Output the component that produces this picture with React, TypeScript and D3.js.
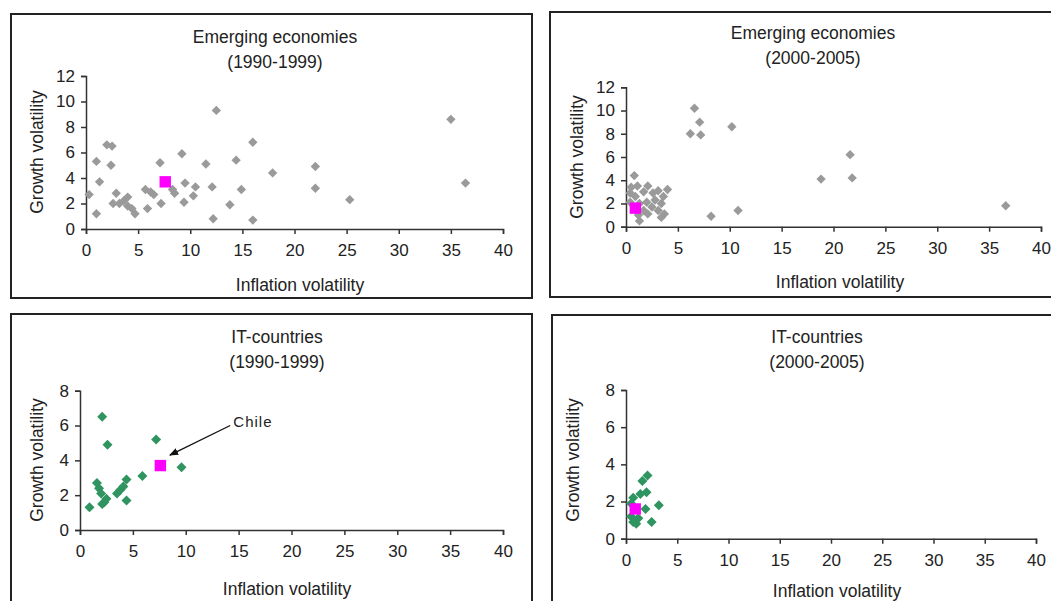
import React, { useEffect, useRef } from "react";
import * as d3 from "d3";

// emerging economies 1990-1999 [inflation volatility, growth volatility]
const emerging90 = [
  [0.3, 2.7], [1.0, 5.3], [1.0, 1.2], [1.3, 3.7], [2.0, 6.6], [2.5, 6.5], [2.4, 5.0],
  [2.6, 2.0], [2.9, 2.8], [3.2, 2.0], [3.6, 2.2], [4.0, 2.5], [4.0, 1.8], [4.4, 1.6],
  [4.7, 1.2], [5.7, 3.1], [6.2, 2.9], [6.5, 2.7], [5.9, 1.6], [7.1, 5.2], [7.2, 2.0],
  [8.3, 3.1], [8.5, 2.8], [9.2, 5.9], [9.5, 3.6], [9.4, 2.1], [10.5, 3.3], [10.3, 2.6],
  [11.5, 5.1], [12.1, 3.3], [12.2, 0.8], [12.5, 9.3], [13.8, 1.9], [14.4, 5.4], [14.9, 3.1],
  [16.0, 6.8], [16.0, 0.7], [17.9, 4.4], [22.0, 4.9], [22.0, 3.2], [25.3, 2.3], [35.0, 8.6],
  [36.4, 3.6],
];
const emerging00 = [
  [0.5, 3.4], [1.1, 3.5], [2.1, 3.5], [1.7, 3.0], [0.9, 2.6], [0.4, 2.9], [2.6, 2.9],
  [3.1, 3.1], [4.0, 3.2], [3.6, 2.6], [2.8, 2.3], [2.0, 2.1], [1.3, 2.0], [3.4, 2.0],
  [0.4, 2.1], [2.5, 1.7], [3.1, 1.4], [3.7, 1.1], [3.4, 0.8], [1.7, 1.4], [1.2, 1.0],
  [2.1, 1.1], [1.3, 0.5], [0.8, 4.4], [6.6, 10.2], [7.1, 9.0], [6.2, 8.0], [7.2, 7.9],
  [10.2, 8.6], [21.6, 6.2], [21.8, 4.2], [18.8, 4.1], [36.6, 1.8], [8.2, 0.9], [10.8, 1.4],
];
const it90 = [
  [2.1, 6.5], [2.6, 4.9], [7.2, 5.2], [9.6, 3.6], [5.9, 3.1], [4.4, 2.9], [4.4, 1.7],
  [3.5, 2.1], [3.8, 2.3], [4.1, 2.5], [1.6, 2.7], [1.8, 2.4], [2.0, 2.1], [2.5, 1.8],
  [2.1, 1.5], [2.3, 1.6], [0.9, 1.3],
];
const it00 = [
  [2.1, 3.4], [1.6, 3.1], [2.0, 2.5], [1.4, 2.4], [0.7, 2.2], [3.2, 1.8], [1.9, 1.6],
  [2.5, 0.9], [0.7, 0.9], [1.2, 1.1], [0.5, 1.2], [0.5, 1.9], [1.0, 0.8],
];
// Chile
const chile90 = [7.6, 3.7];
const chile00 = [0.9, 1.6];
const chileArrow = [[14.2, 6.0], [8.5, 4.3]];
const chileLabel = [14.5, 6.2];

const xTicks = [0, 5, 10, 15, 20, 25, 30, 35, 40];
const yTicksEmerging = [0, 2, 4, 6, 8, 10, 12];
const yTicksIT = [0, 2, 4, 6, 8];

const GRAY = "#9a9a9a";
const GREEN = "#2f9460";
const FONT = "'Liberation Sans', Arial, sans-serif";

const panels = [
  { title: "Emerging economies", period: "(1990-1999)", data: emerging90, chile: chile90, color: GRAY, yTicks: yTicksEmerging,
    frame: [11, 14, 532, 298], plot: [86, 503, 229, 76], tx: 275, ty: 43, xl: [300, 291], yl: [37, 152] },
  { title: "Emerging economies", period: "(2000-2005)", data: emerging00, chile: chile00, color: GRAY, yTicks: yTicksEmerging,
    frame: [550, 12, 1070, 297], plot: [626, 1041, 226.7, 87.3], tx: 813, ty: 39, xl: [840, 288], yl: [577, 157] },
  { title: "IT-countries", period: "(1990-1999)", data: it90, chile: chile90, color: GREEN, yTicks: yTicksIT,
    frame: [11, 314, 532, 640], plot: [80, 503, 530, 390.7], tx: 277, ty: 343, xl: [287, 595], yl: [37, 460], arrow: true },
  { title: "IT-countries", period: "(2000-2005)", data: it00, chile: chile00, color: GREEN, yTicks: yTicksIT,
    frame: [552, 315, 1070, 640], plot: [626, 1036, 538.7, 390], tx: 817, ty: 343, xl: [837, 597], yl: [573, 460] },
];

const App = () => {
  const ref = useRef(null);

  useEffect(() => {
    const svg = d3.select(ref.current);
    svg.selectAll("*").remove();

    svg.append("defs").append("marker")
      .attr("id", "arrowhead")
      .attr("viewBox", "0 0 10 10")
      .attr("refX", 9).attr("refY", 5)
      .attr("markerWidth", 7).attr("markerHeight", 7)
      .attr("orient", "auto")
      .append("path").attr("d", "M0,1 L10,5 L0,9 Z").attr("fill", "#111");

    panels.forEach((p) => {
      const g = svg.append("g");
      const [fx0, fy0, fx1, fy1] = p.frame;
      g.append("rect")
        .attr("x", fx0).attr("y", fy0)
        .attr("width", fx1 - fx0).attr("height", fy1 - fy0)
        .attr("fill", "white").attr("stroke", "#222").attr("stroke-width", 2);

      const [px0, px1, pyB, pyT] = p.plot;
      const x = d3.scaleLinear().domain([0, 40]).range([px0, px1]);
      const y = d3.scaleLinear().domain([0, p.yTicks[p.yTicks.length - 1]]).range([pyB, pyT]);

      const xAxis = g.append("g").attr("transform", `translate(0,${pyB})`)
        .call(d3.axisBottom(x).tickValues(xTicks).tickSize(5).tickPadding(10).tickFormat(d3.format("d")));
      const yAxis = g.append("g").attr("transform", `translate(${px0},0)`)
        .call(d3.axisLeft(y).tickValues(p.yTicks).tickSize(5).tickPadding(6).tickFormat(d3.format("d")));
      [xAxis, yAxis].forEach((a) => {
        a.select(".domain").attr("stroke", "#333").attr("stroke-width", 1.5);
        a.selectAll(".tick line").attr("stroke", "#333").attr("stroke-width", 1.5);
        a.selectAll(".tick text").attr("fill", "#222").style("font-family", FONT).style("font-size", "17px");
      });

      const diamond = d3.symbol().type(d3.symbolSquare).size(p.color === GREEN ? 50 : 44);
      g.selectAll("path.pt").data(p.data).enter().append("path")
        .attr("class", "pt")
        .attr("d", diamond)
        .attr("transform", (d) => `translate(${x(d[0])},${y(d[1])}) rotate(45)`)
        .attr("fill", p.color);

      g.append("path")
        .attr("d", d3.symbol().type(d3.symbolSquare).size(130))
        .attr("transform", `translate(${x(p.chile[0])},${y(p.chile[1])})`)
        .attr("fill", "#ff00ff");

      if (p.arrow) {
        g.append("line")
          .attr("x1", x(chileArrow[0][0])).attr("y1", y(chileArrow[0][1]))
          .attr("x2", x(chileArrow[1][0])).attr("y2", y(chileArrow[1][1]))
          .attr("stroke", "#111").attr("stroke-width", 1.3)
          .attr("marker-end", "url(#arrowhead)");
        g.append("text")
          .attr("x", x(chileLabel[0])).attr("y", y(chileLabel[1]) + 5)
          .attr("fill", "#222").style("font-family", FONT).style("font-size", "15px")
          .style("letter-spacing", "1px")
          .text("Chile");
      }

      const txt = (tx, ty, s) => g.append("text")
        .attr("x", tx).attr("y", ty).attr("text-anchor", "middle")
        .attr("fill", "#222").style("font-family", FONT).style("font-size", "17.5px").text(s);
      txt(p.tx, p.ty, p.title);
      txt(p.tx, p.ty + 25, p.period);
      txt(p.xl[0], p.xl[1], "Inflation volatility");
      g.append("text")
        .attr("transform", `translate(${p.yl[0] + 6},${p.yl[1]}) rotate(-90)`)
        .attr("text-anchor", "middle")
        .attr("fill", "#222").style("font-family", FONT).style("font-size", "17.5px")
        .text("Growth volatility");
    });
  }, []);

  return (
    <svg ref={ref} width={1051} height={601}
      style={{ position: "absolute", left: 0, top: 0, background: "white" }} />
  );
};

export default App;
